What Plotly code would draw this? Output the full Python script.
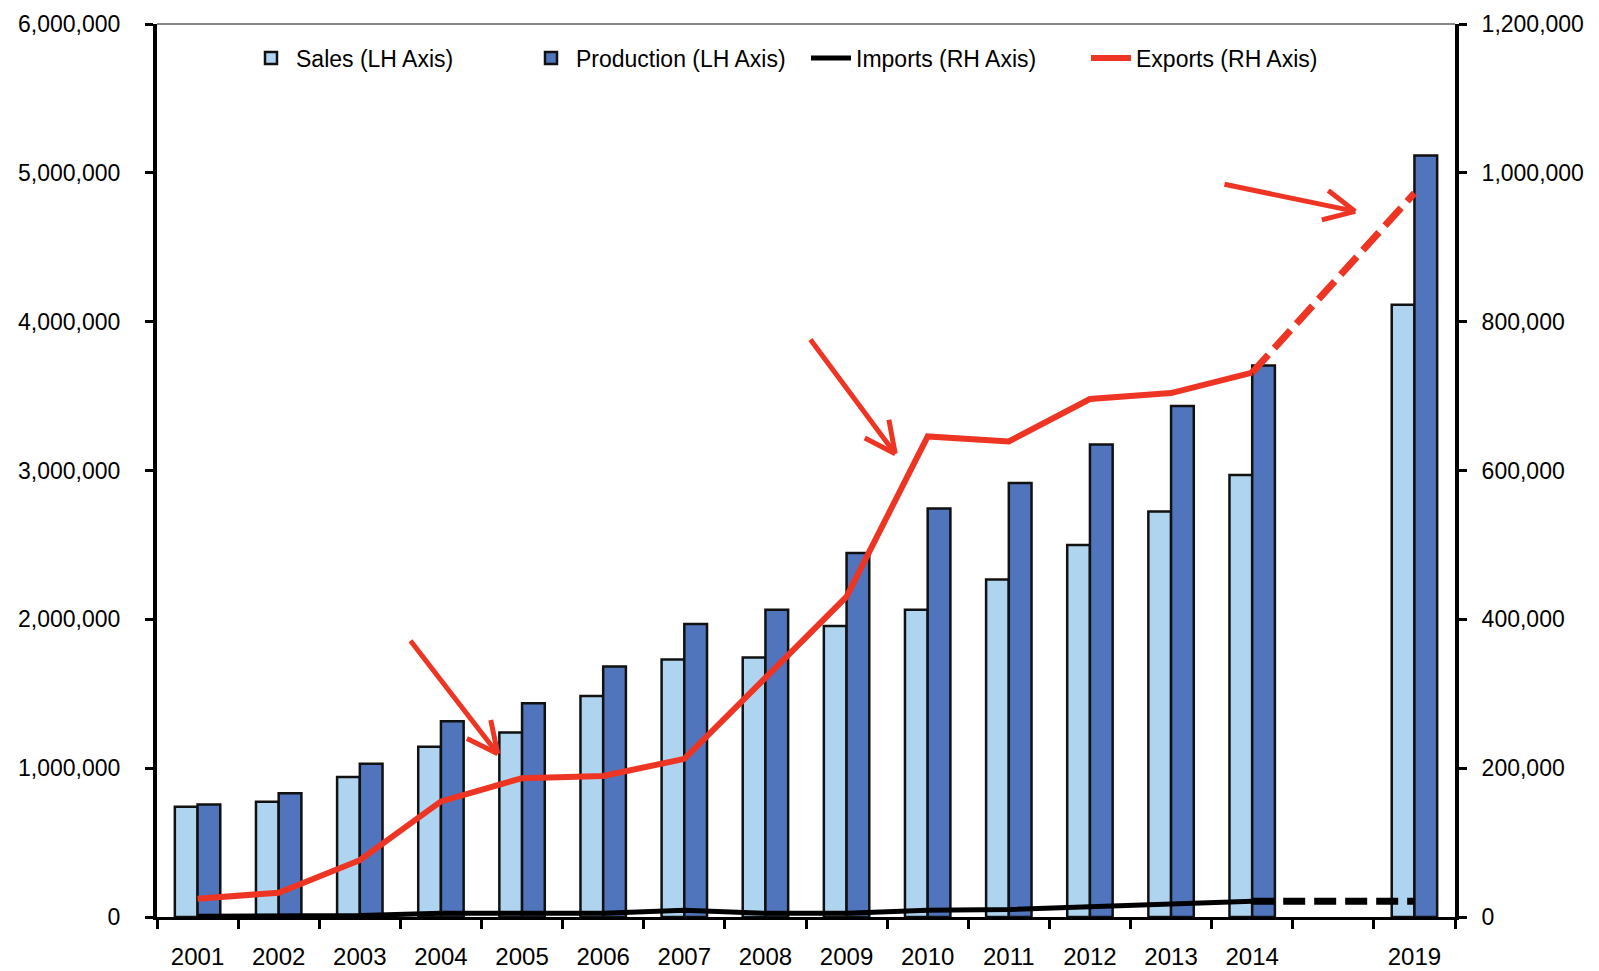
import math
import plotly.graph_objects as go

years = ["2001", "2002", "2003", "2004", "2005", "2006", "2007", "2008",
         "2009", "2010", "2011", "2012", "2013", "2014", "2019"]
sales = [740000, 775000, 940000, 1144000, 1240000, 1485000, 1730000, 1744000,
         1955000, 2064000, 2268000, 2500000, 2725000, 2970000, 4114000]
production = [756000, 831000, 1029000, 1315000, 1437000, 1683000, 1969000, 2064000,
              2446000, 2745000, 2916000, 3174000, 3433000, 3706000, 5116000]
imports = [1000, 1000, 2000, 5000, 5000, 5000, 9000, 5000,
           5000, 9000, 10000, 14000, 17000, 21000, 21000]
exports = [24500, 32700, 76300, 155300, 186600, 189400, 212500, 321500,
           430500, 645800, 639000, 696000, 704000, 731600, 972700]

left_ticks = [0, 1000000, 2000000, 3000000, 4000000, 5000000, 6000000]
right_ticks = [0, 200000, 400000, 600000, 800000, 1000000, 1200000]

# slot positions: one empty slot between 2014 and 2019
slot = []
for i, y in enumerate(years):
    slot.append(i if int(y) <= 2014 else i + 1)

FONT = "Liberation Sans, Arial, sans-serif"
RED = "#EE3524"
W, H = 1599, 971
M = dict(l=149, r=152, t=16, b=62)
XR = [-0.5, 15.5]
YR = [0, 6000000]

fig = go.Figure()
fig.add_trace(go.Bar(x=slot, y=sales, name="Sales (LH Axis)",
                     marker=dict(color="#AED4F0", line=dict(color="#111111", width=2.5))))
fig.add_trace(go.Bar(x=slot, y=production, name="Production (LH Axis)",
                     marker=dict(color="#5075BC", line=dict(color="#111111", width=2.5))))

# actual (solid) parts: up to 2014; projection (dashed) 2014 -> 2019
fig.add_trace(go.Scatter(x=slot[:-1], y=imports[:-1], name="Imports (RH Axis)", yaxis="y2",
                         mode="lines", line=dict(color="#000000", width=5)))
fig.add_trace(go.Scatter(x=slot[-2:], y=imports[-2:], showlegend=False, yaxis="y2",
                         mode="lines", line=dict(color="#000000", width=7, dash="22px,9px")))
fig.add_trace(go.Scatter(x=slot[:-1], y=exports[:-1], name="Exports (RH Axis)", yaxis="y2",
                         mode="lines", line=dict(color=RED, width=6)))
fig.add_trace(go.Scatter(x=slot[-2:], y=exports[-2:], showlegend=False, yaxis="y2",
                         mode="lines", line=dict(color=RED, width=7, dash="24px,9px")))

# annotation arrows: (tail, head) in data coordinates of x / left y axis
arrows = [
    ((2.61, 1866000), (3.70, 1097000)),
    ((7.54, 3890000), (8.60, 3113000)),
    ((12.64, 4925000), (14.27, 4741000)),
]
pw = W - M["l"] - M["r"]
ph = H - M["t"] - M["b"]
sx = pw / (XR[1] - XR[0])
sy = ph / (YR[1] - YR[0])
ARM_LEN, ARM_ANG = 36, math.radians(26)
for (tx, ty), (hx, hy) in arrows:
    dx = (tx - hx) * sx
    dy = -(ty - hy) * sy
    ang = math.atan2(dy, dx)
    offsets = [(dx, dy)]
    for s in (-1, 1):
        a = ang + s * ARM_ANG
        offsets.append((ARM_LEN * math.cos(a), ARM_LEN * math.sin(a)))
    for ox, oy in offsets:
        fig.add_annotation(x=hx, y=hy, ax=ox, ay=oy, xref="x", yref="y",
                           text="", showarrow=True, arrowhead=0,
                           arrowwidth=5, arrowcolor=RED)

# top frame line
fig.add_shape(type="line", xref="paper", yref="paper", x0=0, x1=1, y0=1, y1=1,
              line=dict(color="#888888", width=2))

fig.update_layout(
    width=W, height=H,
    margin=dict(**M, autoexpand=False),
    paper_bgcolor="white", plot_bgcolor="white",
    font=dict(family=FONT, size=24, color="#000000"),
    barmode="group", bargap=0.44, bargroupgap=0,
    showlegend=True,
    legend=dict(orientation="h", x=0.5, xanchor="center", y=0.962, yanchor="middle",
                font=dict(size=23, family=FONT), bgcolor="rgba(0,0,0,0)",
                itemwidth=40, traceorder="normal", entrywidth=225),
    xaxis=dict(range=XR, tickmode="array", tickvals=slot, ticktext=years,
               ticks="", showgrid=False, zeroline=False, automargin=False,
               showline=True, linecolor="#000000", linewidth=3,
               tickfont=dict(size=24), ticklabelstandoff=16,
               ticklabeloverflow="allow",
               minor=dict(tick0=-0.5, dtick=1, ticks="outside", ticklen=9,
                          tickwidth=3, tickcolor="#000000", showgrid=False)),
    yaxis=dict(range=YR, tickmode="array", tickvals=left_ticks,
               tickformat=",d", showgrid=False, zeroline=False, automargin=False,
               showline=True, linecolor="#000000", linewidth=4,
               ticks="outside", ticklen=8, tickwidth=3, tickcolor="#000000",
               tickfont=dict(size=23), ticklabelstandoff=20,
               ticklabeloverflow="allow"),
    yaxis2=dict(range=[0, 1200000], tickmode="array", tickvals=right_ticks,
                tickformat=",d", overlaying="y", side="right", showgrid=False,
                zeroline=False, automargin=False, showline=True, linecolor="#000000",
                linewidth=4, ticks="outside", ticklen=8, tickwidth=3, tickcolor="#000000",
                tickfont=dict(size=23), ticklabelstandoff=10,
                ticklabeloverflow="allow"),
)

fig.write_html("out.html")
